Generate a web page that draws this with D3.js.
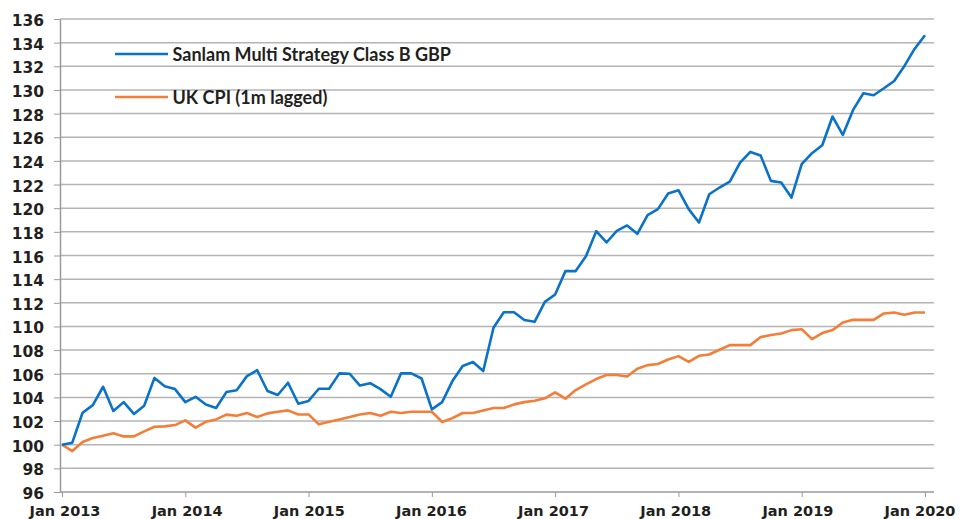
<!DOCTYPE html>
<html>
<head>
<meta charset="utf-8">
<script src="https://cdn.jsdelivr.net/npm/d3@7"></script>
<style>
  body { margin: 0; background: #fff; }
  svg text { font-weight: 700; fill: #231f20; }
  .axis text { font-family: "DejaVu Sans", sans-serif; }
  .legend text { font-family: Lato, "Open Sans", sans-serif; }
</style>
</head>
<body>
<svg id="chart"></svg>
<script>
// monthly index values, Jan 2013 .. Jan 2020
const fund = [100, 100.17, 102.7, 103.35, 104.9, 102.85, 103.6, 102.6, 103.3, 105.65, 104.95, 104.7,
  103.6, 104.05, 103.4, 103.1, 104.45, 104.6, 105.8, 106.3, 104.54, 104.2, 105.24, 103.46,
  103.7, 104.73, 104.73, 106.03, 106.0, 105.0, 105.2, 104.7, 104.05, 106.03, 106.03, 105.6,
  102.99, 103.6, 105.38, 106.65, 106.99, 106.23, 109.89, 111.2, 111.2, 110.54, 110.39, 112.08,
  112.7, 114.68, 114.68, 115.94, 118.06, 117.1, 118.08, 118.54, 117.83, 119.41, 119.92, 121.24,
  121.52, 119.92, 118.79, 121.18, 121.75, 122.25, 123.86, 124.76, 124.45, 122.31, 122.17, 120.9,
  123.72, 124.65, 125.32, 127.75, 126.2, 128.31, 129.72, 129.55, 130.14, 130.76, 132.03, 133.49,
  134.62];
const cpi = [100, 99.46, 100.23, 100.56, 100.76, 100.96, 100.7, 100.7, 101.13, 101.52, 101.55, 101.66,
  102.06, 101.44, 101.94, 102.14, 102.54, 102.45, 102.68, 102.34, 102.65, 102.79, 102.9, 102.56,
  102.56, 101.72, 101.94, 102.14, 102.34, 102.56, 102.68, 102.45, 102.79, 102.68, 102.79, 102.79,
  102.79, 101.92, 102.25, 102.68, 102.68, 102.9, 103.1, 103.1, 103.41, 103.6, 103.72, 103.92,
  104.42, 103.89, 104.62, 105.1, 105.55, 105.89, 105.89, 105.77, 106.42, 106.73, 106.82, 107.21,
  107.49, 107.01, 107.52, 107.63, 108.03, 108.42, 108.42, 108.42, 109.1, 109.27, 109.4, 109.69,
  109.77, 108.93, 109.44, 109.69, 110.34, 110.56, 110.56, 110.56, 111.1, 111.18, 110.99, 111.18,
  111.18];
const xTickLabels = ['Jan 2013', 'Jan 2014', 'Jan 2015', 'Jan 2016', 'Jan 2017', 'Jan 2018', 'Jan 2019', 'Jan 2020'];
const seriesNames = ['Sanlam Multi Strategy Class B GBP', 'UK CPI (1m lagged)'];
const colors = ['#0a72c8', '#f47d37'];

const width = 964, height = 519;
const margin = {top: 19, right: 30, bottom: 27, left: 60};

const svg = d3.select('#chart').attr('width', width).attr('height', height);

const x = d3.scaleLinear().domain([0, 84]).range([margin.left + 2, 925]);
const y = d3.scaleLinear().domain([96, 136]).range([height - margin.bottom, margin.top]);
// excel spreads the date labels a little tighter than the ticks
const xLabel = d3.scaleLinear().domain([0, 84]).range([64.5, 919.5]);
const xEnd = width - margin.right;

const yTicks = d3.range(96, 137, 2);

// gridlines
svg.append('g')
  .selectAll('line')
  .data(yTicks.filter(d => d > 96))
  .join('line')
  .attr('x1', margin.left).attr('x2', xEnd)
  .attr('y1', d => y(d)).attr('y2', d => y(d))
  .attr('stroke', '#b4b4b4').attr('stroke-width', 1.5);

// y axis
const yAxis = d3.axisLeft(y).tickValues(yTicks).tickSize(6).tickSizeOuter(0).tickPadding(10);
const yg = svg.append('g').attr('class', 'axis').attr('transform', `translate(${margin.left},0)`).call(yAxis);
yg.select('.domain').attr('stroke', '#9a9a9a').attr('stroke-width', 1.5);
yg.selectAll('.tick line').attr('stroke', '#9a9a9a');
yg.selectAll('.tick text').style('font-size', '15.5px').attr('dy', '0.42em').attr('fill', '#231f20');

// x axis
const xAxis = d3.axisBottom(x).tickValues(d3.range(0, 85, 12))
  .tickFormat((d, i) => xTickLabels[i]).tickSize(5).tickSizeOuter(0).tickPadding(0);
const xg = svg.append('g').attr('class', 'axis').attr('transform', `translate(0,${y(96)})`).call(xAxis);
xg.select('.domain').attr('d', `M${margin.left},0H${xEnd}`).attr('stroke', '#9a9a9a').attr('stroke-width', 1.5);
xg.selectAll('.tick line').attr('stroke', '#9a9a9a');
xg.selectAll('.tick text')
  .style('font-size', '14.5px')
  .attr('fill', '#231f20')
  .attr('dy', null)
  .attr('y', 24)
  .attr('x', d => xLabel(d) - x(d));

// lines
const line = d3.line().x((d, i) => x(i)).y(d => y(d));
[cpi, fund].forEach((s, k) => {
  svg.append('path')
    .datum(s)
    .attr('fill', 'none')
    .attr('stroke', colors[1 - k])
    .attr('stroke-width', 2.6)
    .attr('stroke-linejoin', 'round')
    .attr('d', line);
});

// legend
const legend = svg.append('g').attr('class', 'legend');
seriesNames.forEach((name, i) => {
  const ly = 54 + i * 43;
  legend.append('line')
    .attr('x1', 115).attr('x2', 168).attr('y1', ly).attr('y2', ly)
    .attr('stroke', colors[i]).attr('stroke-width', 2.6);
  legend.append('text')
    .attr('x', 172.5).attr('y', ly + 7)
    .style('font-size', '18px')
    .text(name);
});
</script>
</body>
</html>
